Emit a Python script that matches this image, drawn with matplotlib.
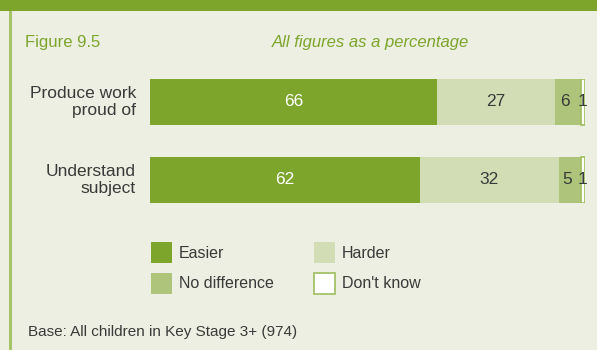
import matplotlib
matplotlib.use("Agg")
import matplotlib.pyplot as plt
from matplotlib.patches import Rectangle

plt.rcParams['font.family'] = ['Liberation Sans Narrow', 'Liberation Sans', 'DejaVu Sans']

# data
categories = ["Produce work\nproud of", "Understand\nsubject"]
series_names = ["Easier", "Harder", "No difference", "Don't know"]
easier = [66, 62]
harder = [27, 32]
no_diff = [6, 5]
dont_know = [1, 1]

W, H = 597, 350
bg = "#ECEFE1"
dark_green = "#7DA52C"
light_green = "#D2DDB6"
mid_green = "#AEC47A"
edge_green = "#9DBE5E"
txt = "#3A3A3A"

fig = plt.figure(figsize=(W / 100, H / 100), dpi=100)
fig.patch.set_facecolor(bg)

def px(x, y):
    # pixel (from top-left) -> figure fraction
    return x / W, 1 - y / H

# top band and left rule
fig.add_artist(Rectangle((0, 1 - 11 / H), 1, 11 / H, transform=fig.transFigure,
                         facecolor=dark_green, edgecolor="none"))
fig.add_artist(Rectangle((9 / W, 0), 2.5 / W, 1 - 11 / H, transform=fig.transFigure,
                         facecolor="#A5C46A", edgecolor="none"))

fig.text(*px(25, 42), "Figure 9.5", color=dark_green, fontsize=12, va="center", ha="left")
fig.text(*px(370, 42), "All figures as a percentage", color=dark_green, fontsize=12,
         va="center", ha="center", style="italic")

# bar axes
ax = fig.add_axes([150 / W, 1 - 203 / H, 435 / W, 124 / H])
ax.set_facecolor("none")
bh = 46 / 78
ax.set_ylim(1 + bh / 2, -bh / 2)
ax.set_xlim(0, 100)
ax.axis("off")

ys = list(range(len(categories)))
left = [0] * len(categories)
styles = [
    (easier, dark_green, "none", "white"),
    (harder, light_green, "none", txt),
    (no_diff, mid_green, "none", txt),
    (dont_know, "white", edge_green, txt),
]
for vals, fc, ec, tc in styles:
    ax.barh(ys, vals, left=left, height=bh, color=fc, edgecolor=ec, linewidth=1.2)
    for y, l, v in zip(ys, left, vals):
        xo = -0.6 if v < 10 and v > 1 else 0
        ax.text(l + v / 2 + xo, y, str(v), ha="center", va="center", color=tc,
                fontsize=12.5)
    left = [a + b for a, b in zip(left, vals)]

for y, c in zip(ys, categories):
    ax.text(-3.2, y, c, ha="right", va="center", color=txt, fontsize=12.5,
            linespacing=1.15)

# legend
legend_pos = [(151, 242), (314, 242), (151, 273), (314, 273)]
legend_fc = [dark_green, light_green, mid_green, "white"]
legend_ec = ["none", "none", "none", edge_green]
for (lx, ly), name, fc, ec in zip(legend_pos, series_names, legend_fc, legend_ec):
    x0, y0 = px(lx, ly + 21)
    fig.add_artist(Rectangle((x0, y0), 21 / W, 21 / H, transform=fig.transFigure,
                             facecolor=fc, edgecolor=ec, linewidth=1.2))
    fig.text(*px(lx + 28, ly + 11), name, color=txt, fontsize=11.5, va="center", ha="left")

fig.text(*px(28, 332), "Base: All children in Key Stage 3+ (974)", color=txt, fontsize=11,
         va="center", ha="left")

fig.savefig("out.png", dpi=100, facecolor=bg)
